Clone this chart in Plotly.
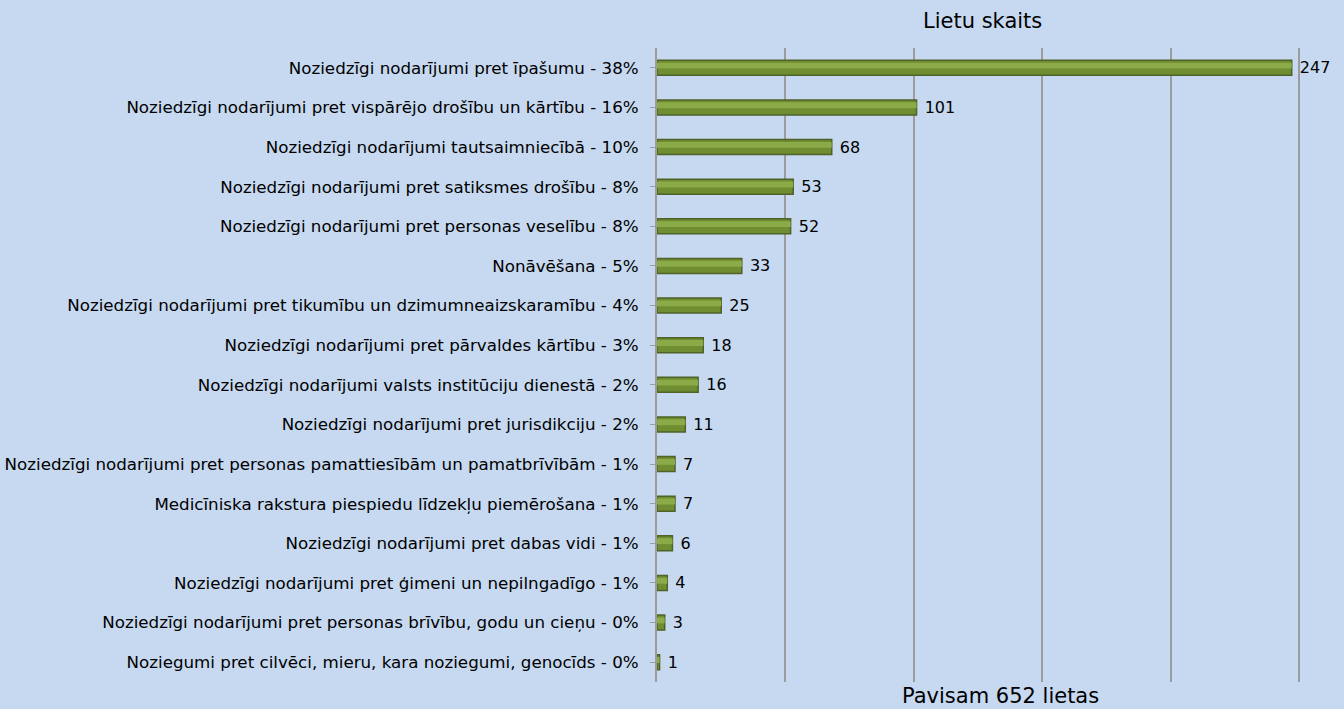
import plotly.graph_objects as go

categories = [
    "Noziedzīgi nodarījumi pret īpašumu - 38%",
    "Noziedzīgi nodarījumi pret vispārējo drošību un kārtību - 16%",
    "Noziedzīgi nodarījumi tautsaimniecībā - 10%",
    "Noziedzīgi nodarījumi pret satiksmes drošību - 8%",
    "Noziedzīgi nodarījumi pret personas veselību - 8%",
    "Nonāvēšana - 5%",
    "Noziedzīgi nodarījumi pret tikumību un dzimumneaizskaramību - 4%",
    "Noziedzīgi nodarījumi pret pārvaldes kārtību - 3%",
    "Noziedzīgi nodarījumi valsts institūciju dienestā - 2%",
    "Noziedzīgi nodarījumi pret jurisdikciju - 2%",
    "Noziedzīgi nodarījumi pret personas pamattiesībām un pamatbrīvībām - 1%",
    "Medicīniska rakstura piespiedu līdzekļu piemērošana - 1%",
    "Noziedzīgi nodarījumi pret dabas vidi - 1%",
    "Noziedzīgi nodarījumi pret ģimeni un nepilngadīgo - 1%",
    "Noziedzīgi nodarījumi pret personas brīvību, godu un cieņu - 0%",
    "Noziegumi pret cilvēci, mieru, kara noziegumi, genocīds - 0%",
]
counts = [247, 101, 68, 53, 52, 33, 25, 18, 16, 11, 7, 7, 6, 4, 3, 1]
x_ticks = [0, 50, 100, 150, 200, 250]
title_top = "Lietu skaits"
title_bottom = "Pavisam 652 lietas"

BG = "#c6d9f0"
FONT = "DejaVu Sans"

fig = go.Figure()
# main cylinder body
fig.add_trace(go.Bar(
    y=categories,
    x=counts,
    orientation="h",
    marker=dict(color="#6f8d31", line=dict(color="#4f6228", width=1.5)),
    texttemplate="\u00a0%{x}",
    textposition="outside",
    constraintext="none",
    textfont=dict(family=FONT, size=16, color="#000000"),
    cliponaxis=False,
    width=0.38,
    hoverinfo="x+y",
))
# light highlight band on the upper part of each cylinder
fig.add_trace(go.Bar(
    y=categories,
    x=counts,
    orientation="h",
    marker=dict(color="#8aab47", line=dict(width=0)),
    width=0.15,
    offset=-0.02,
    hoverinfo="skip",
))

fig.update_layout(
    width=1344,
    height=709,
    barmode="overlay",
    paper_bgcolor=BG,
    plot_bgcolor=BG,
    margin=dict(l=657, r=42, t=48, b=27),
    showlegend=False,
    font=dict(family=FONT, size=15, color="#000000"),
    xaxis=dict(
        range=[0, 251],
        tickvals=x_ticks,
        showticklabels=False,
        showgrid=True,
        gridcolor="#9c9c9c",
        gridwidth=2,
        zeroline=False,
        showline=False,
        fixedrange=True,
        automargin=False,
    ),
    yaxis=dict(
        categoryorder="array",
        categoryarray=list(reversed(categories)),
        showline=True,
        linecolor="#9c9c9c",
        linewidth=2,
        ticks="outside",
        ticklen=5,
        tickcolor="#9c9c9c",
        ticklabelstandoff=8,
        tickfont=dict(family=FONT, size=16.7, color="#000000"),
        fixedrange=True,
        automargin=False,
    ),
    annotations=[
        dict(text=title_top, x=0.504, y=1.0, xref="paper", yref="paper",
             xanchor="center", yanchor="bottom", yshift=13, showarrow=False,
             font=dict(family=FONT, size=21, color="#000000")),
        dict(text=title_bottom, x=0.533, y=0.0, xref="paper", yref="paper",
             xanchor="center", yanchor="top", yshift=0, showarrow=False,
             font=dict(family=FONT, size=21, color="#000000")),
    ],
)

fig.write_html(
    "out.html",
    config={"displayModeBar": False},
    post_script="document.body.style.margin='0';document.body.style.background='#c6d9f0';document.body.style.overflow='hidden';",
)
